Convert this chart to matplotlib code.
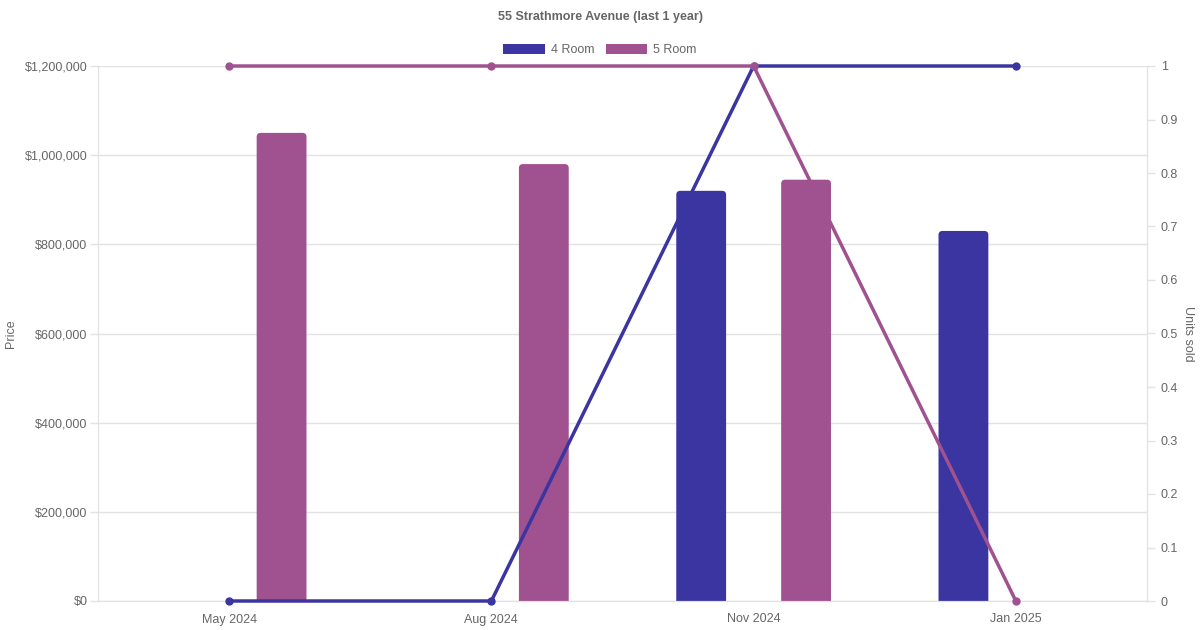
import matplotlib
matplotlib.use("Agg")
import matplotlib.pyplot as plt
from matplotlib.patches import Patch, FancyBboxPatch
from matplotlib.ticker import FuncFormatter, MultipleLocator
import numpy as np

plt.rcParams['font.family'] = ['Liberation Sans', 'DejaVu Sans']

months = ["May 2024", "Aug 2024", "Nov 2024", "Jan 2025"]
price_4room = [np.nan, np.nan, 920000, 830000]
price_5room = [1050000, 980000, 945000, np.nan]
units_4room = [0, 0, 1, 1]
units_5room = [1, 1, 1, 0]

blue = "#3a35a0"
purple = "#a05290"
grey = "#666666"
gridc = "#e2e2e2"

fig = plt.figure(figsize=(12, 6.3), dpi=100)
ax = fig.add_axes([98/1200, 1 - 601/630, (1147-98)/1200, (601-66)/630])
ax2 = ax.twinx()

x = np.arange(len(months))
w = 0.19
off = 0.2
ax.set_xlim(-0.5, 3.5)
ax.set_ylim(0, 1200000)

# rounded top corners: ~4px radius, box pushed below 0 so the bottom gets clipped
rad_x = 4 / 262
rad_y = 4 * 1200000 / 535
for vals, shift, col in [(price_4room, -off, blue), (price_5room, off, purple)]:
    bars = ax.bar(x + shift, vals, width=w, color=col, zorder=2)
    for b in bars:
        h = b.get_height()
        if np.isnan(h):
            continue
        b.set_visible(False)
        p = FancyBboxPatch((b.get_x() + rad_x, -rad_y), b.get_width() - 2 * rad_x, h,
                           boxstyle="round,pad={},rounding_size={}".format(rad_x, rad_x),
                           mutation_aspect=rad_y / rad_x, facecolor=col, edgecolor="none",
                           zorder=2, clip_on=True)
        ax.add_patch(p)

ax2.plot(x, units_4room, color=blue, lw=2.5, marker="o", ms=5, zorder=3, clip_on=False)
ax2.plot(x, units_5room, color=purple, lw=2.5, marker="o", ms=5, zorder=3, clip_on=False)

ax2.set_ylim(0, 1)
ax.yaxis.set_major_locator(MultipleLocator(200000))
ax2.yaxis.set_major_locator(MultipleLocator(0.1))
ax.yaxis.set_major_formatter(FuncFormatter(lambda v, p: "${:,.0f}".format(v)))
ax2.yaxis.set_major_formatter(FuncFormatter(lambda v, p: "{:g}".format(round(v, 1))))
ax.set_xticks(x)
ax.set_xticklabels(months)

ax.grid(axis="y", color=gridc, lw=1, zorder=0)
ax.set_axisbelow(True)
for a in (ax, ax2):
    for s in a.spines.values():
        s.set_color(gridc)
    a.spines["top"].set_visible(False)
    a.tick_params(colors=grey, labelsize=9, length=6, width=1)
    a.tick_params(axis="both", color=gridc)
ax.tick_params(axis="x", length=0, pad=9)
ax.tick_params(axis="y", pad=1.5)
ax2.tick_params(axis="y", pad=4)

ax.set_ylabel("Price", color=grey, fontsize=9, va="center")
ax.yaxis.set_label_coords(-0.083, 0.5)
ax2.set_ylabel("Units sold", color=grey, fontsize=9, rotation=270, va="center")
ax2.yaxis.set_label_coords(1.039, 0.5)

fig.text(0.5, 1 - 17/630, "55 Strathmore Avenue (last 1 year)", ha="center", va="center",
         color=grey, fontsize=9, fontweight="bold")

handles = [Patch(facecolor=blue, label="4 Room"), Patch(facecolor=purple, label="5 Room")]
fig.legend(handles=handles, loc="center", bbox_to_anchor=(0.5, 1 - 50/630), ncol=2,
           frameon=False, fontsize=9, labelcolor=grey, handlelength=3.3, handleheight=0.9,
           handletextpad=0.5, columnspacing=0.9)

fig.savefig("out.png", dpi=100)
